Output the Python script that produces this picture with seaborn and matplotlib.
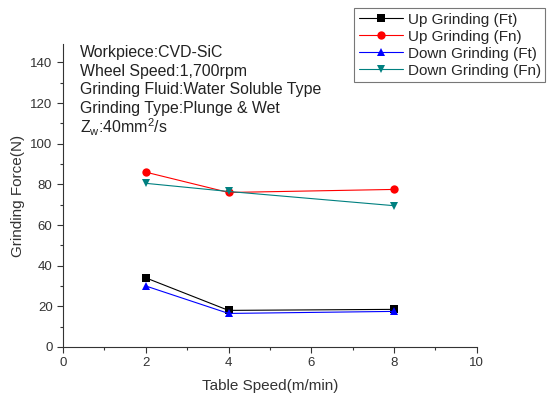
import pandas as pd
import seaborn as sns
import matplotlib
matplotlib.use('Agg')
import matplotlib.pyplot as plt
from matplotlib.ticker import MultipleLocator

# values
table_speed = [2, 4, 8]
up_ft = [34, 18, 18.5]
up_fn = [86, 76, 77.5]
down_ft = [30, 16.5, 17.5]
down_fn = [80.5, 76.5, 69.5]

series_names = ['Up Grinding (Ft)', 'Up Grinding (Fn)', 'Down Grinding (Ft)', 'Down Grinding (Fn)']
series_vals = [up_ft, up_fn, down_ft, down_fn]
colors = ['black', 'red', 'blue', '#008080']
markers = ['s', 'o', '^', 'v']

rows = []
for name, vals in zip(series_names, series_vals):
    for x, y in zip(table_speed, vals):
        rows.append({'speed': x, 'force': y, 'series': name})
df = pd.DataFrame(rows)

sns.set_style('ticks')
plt.rcParams['font.family'] = ['Liberation Sans', 'DejaVu Sans']

fig = plt.figure(figsize=(5.48, 3.97), dpi=100)
ax = fig.add_axes([0.115, 0.126, 0.755, 0.763])

sns.lineplot(data=df, x='speed', y='force', hue='series', style='series',
             hue_order=series_names, style_order=series_names,
             palette=colors, markers=markers, dashes=False,
             markersize=6, linewidth=0.8, markeredgewidth=0, ax=ax)

ax.set_xlim(0, 10)
ax.set_ylim(0, 149)
ax.xaxis.set_major_locator(MultipleLocator(2))
ax.xaxis.set_minor_locator(MultipleLocator(1))
ax.yaxis.set_major_locator(MultipleLocator(20))
ax.yaxis.set_minor_locator(MultipleLocator(10))
ax.tick_params(which='both', direction='out', labelsize=9.5, colors='#333333', width=0.8)
ax.tick_params(which='major', length=4)
ax.tick_params(which='minor', length=2.5)
for s in ['top', 'right']:
    ax.spines[s].set_visible(False)
for s in ['left', 'bottom']:
    ax.spines[s].set_color('#333333')
    ax.spines[s].set_linewidth(0.8)

ax.set_xlabel('Table Speed(m/min)', fontsize=11, color='#333333', labelpad=7)
ax.set_ylabel('Grinding Force(N)', fontsize=11, color='#333333', labelpad=4)

notes = ['Workpiece:CVD-SiC', 'Wheel Speed:1,700rpm',
         'Grinding Fluid:Water Soluble Type', 'Grinding Type:Plunge & Wet',
         r'Z$_\mathregular{w}$:40mm$^\mathregular{2}$/s']
for i, t in enumerate(notes):
    fig.text(0.146, 0.868 - i * 0.047, t, fontsize=11.4, color='#222222', va='center')

leg = ax.legend(loc='upper right', bbox_to_anchor=(0.995, 0.98),
                bbox_transform=fig.transFigure, fontsize=11, frameon=True,
                fancybox=False, handlelength=2.9, handletextpad=0.3,
                borderpad=0.3, labelspacing=0.2, borderaxespad=0)
leg.get_frame().set_edgecolor('#555555')
leg.get_frame().set_linewidth(0.8)
leg.set_title(None)

fig.savefig('out.png', dpi=100)
